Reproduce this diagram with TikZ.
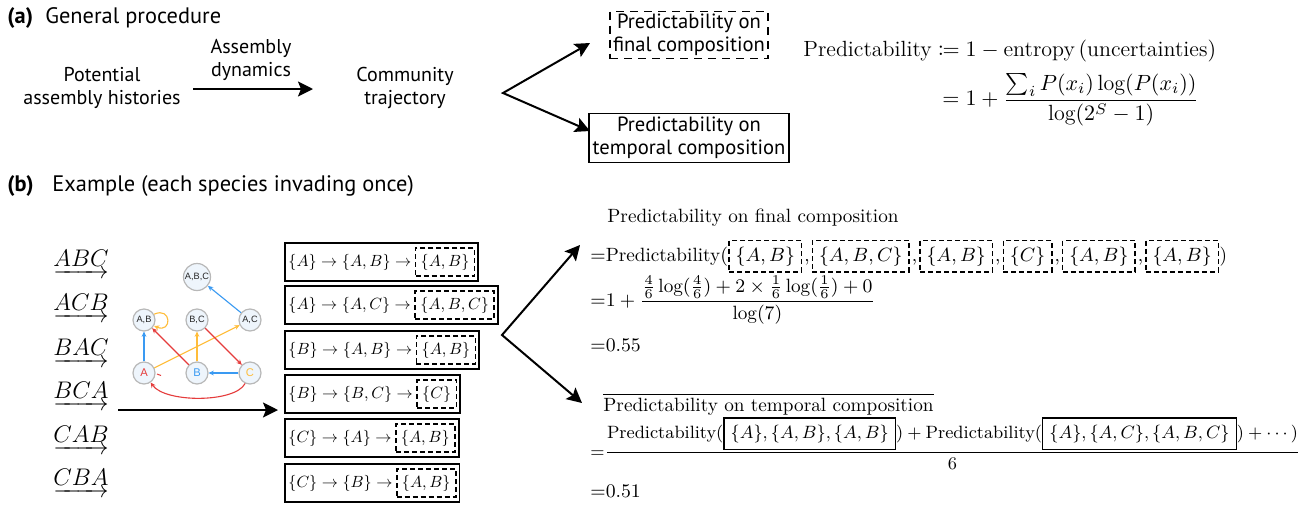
\RequirePackage{fix-cm}
\documentclass[tikz,border=0pt]{standalone}
\usepackage{graphicx}
\usepackage{amsmath}
\usepackage{mathtools}
\usepackage{fontspec}
\setsansfont{PT Sans}
\newfontfamily\gfont{Liberation Sans}
\usetikzlibrary{arrows.meta,fit}
\definecolor{gblue}{HTML}{3A9AF2}
\definecolor{gred}{HTML}{E53C3C}
\definecolor{gorange}{HTML}{FFBD3A}
\definecolor{gfill}{HTML}{EEF5FC}
\definecolor{gline}{HTML}{B8B8B8}
\setlength\fboxsep{3pt}
\setlength\fboxrule{0.7pt}
\newcommand\rowm[1]{\scalebox{0.81}{$#1$}}
\begin{document}
\begin{tikzpicture}[x=0.5pt,y=-0.5pt,
  bigtip/.tip={Stealth[length=7.5pt,width=7.5pt,inset=1.5pt]},
  sflab/.style={font=\sffamily\fontsize{10.3}{11.5}\selectfont, align=center, inner sep=0pt},
  flow/.style={font=\sffamily\fontsize{10}{11.5}\selectfont, align=center, inner sep=0pt},
  head/.style={font=\sffamily\fontsize{11.2}{13}\selectfont, anchor=west, inner sep=0pt},
  bigarrow/.style={line width=1pt, -bigtip},
  lbl/.style={font=\fontsize{12}{14}\selectfont, inner sep=0pt},
  rtxt/.style={font=\fontsize{10}{12}\selectfont, inner sep=0pt, anchor=base west},
  rdash/.style={draw, line width=0.8pt, dash pattern=on 2.5pt off 1.5pt, inner xsep=2.6pt, inner ysep=2.9pt, font=\fontsize{10}{12}\selectfont, anchor=base west},
  rbox/.style={draw, line width=0.9pt, inner xsep=1.5pt, inner ysep=2.2pt},
  rt/.style={font=\fontsize{9.6}{11}\selectfont, inner sep=0pt, anchor=base west},
  dbox/.style={draw, line width=0.8pt, dash pattern=on 2.5pt off 1.5pt, inner xsep=3.3pt, inner ysep=3pt, font=\fontsize{9.6}{11}\selectfont, anchor=base west},
  gn/.style={circle, draw=gline, fill=gfill, line width=0.6pt, minimum size=11pt, inner sep=0pt, font=\gfont\fontsize{4.6}{5}\selectfont, text=black!85},
  ge/.style={line width=0.55pt, -{Stealth[length=2.6pt,width=2.4pt]}}
]
\path[use as bounding box, fill=white] (0,0) rectangle (1309,504);

% ---------------- (a) ----------------
\node[head] (la) at (7,18) {\bfseries (a)};
\node[head] (ta) at (45,18) {General procedure};
\node[flow] (hist) at (102,88) {Potential\\assembly histories};
\node[flow] (dyn) at (251,60) {Assembly\\dynamics};
\node[flow] (traj) at (405,88) {Community\\trajectory};
\coordinate (a1) at (193,89);
\coordinate (a2) at (313,89);
\draw[bigarrow] (a1) -- (a2);

\coordinate (va) at (503,93);
\coordinate (ua) at (590,43);
\coordinate (da) at (590,131);
\draw[line width=1pt, bigtip-bigtip] (ua) -- (va) -- (da);

\node[draw, line width=0.6pt, dash pattern=on 4pt off 3pt, sflab, inner sep=1.5pt] (fin) at (689,35) {Predictability on\\final composition};
\node[draw, line width=0.6pt, sflab, inner sep=1.8pt] (tmp) at (689,138) {Predictability on\\temporal composition};

\node[anchor=base west, inner sep=0pt, font=\fontsize{11}{13}\selectfont] (d1) at (803,56)
  {$\text{Predictability} \coloneqq 1-\text{entropy}\,(\text{uncertainties})$};
\node[anchor=base west, inner sep=0pt, font=\fontsize{11}{13}\selectfont] (d2) at (942,105.5)
  {$=1+\dfrac{\sum_i P(x_i)\log(P(x_i))}{\log(2^S-1)}$};

% ---------------- (b) ----------------
\node[head] (lb) at (7,186) {\bfseries (b)};
\node[head] (tb) at (52,186) {Example (each species invading once)};

\node[lbl] (h1) at (81,264.5) {$\underrightarrow{ABC}$};
\node[lbl] (h2) at (81,308.5) {$\underrightarrow{ACB}$};
\node[lbl] (h3) at (81,353) {$\underrightarrow{BAC}$};
\node[lbl] (h4) at (81,396.5) {$\underrightarrow{BCA}$};
\node[lbl] (h5) at (81,440) {$\underrightarrow{CAB}$};
\node[lbl] (h6) at (81,483.5) {$\underrightarrow{CBA}$};

% graph
\node[gn, minimum size=13.5pt] (ABC) at (197,277) {A,B,C};
\node[gn] (AB) at (144,320) {A,B};
\node[gn] (BC) at (197,320) {B,C};
\node[gn] (AC) at (250,320) {A,C};
\node[gn, font=\gfont\fontsize{5.6}{6}\selectfont, text=gred] (A) at (144,373) {A};
\node[gn, font=\gfont\fontsize{5.6}{6}\selectfont, text=gblue] (B) at (197,373) {B};
\node[gn, font=\gfont\fontsize{5.6}{6}\selectfont, text=gorange] (C) at (250,373) {C};
\draw[ge, gblue] (A) -- (AB);
\draw[ge, gorange] (A) -- (AC);
\draw[ge, gred] (B) -- (AB);
\draw[ge, gorange] (B) -- (BC);
\draw[ge, gred] (BC) -- (C);
\draw[ge, gblue, line width=1pt] (C) -- (B);
\draw[ge, gblue] (AC) -- (ABC);
\draw[ge, gorange] (AB.30) .. controls +(18,-8) and +(18,8) .. (AB.-30);
\draw[ge, gred] (C.-115) .. controls (235,403) and (165,403) .. (A.-55);
\draw[gred, line width=0.5pt] (157,374) -- (161,375.5);

\coordinate (b1) at (118,410);
\coordinate (b2) at (278,410);
\draw[bigarrow] (b1) -- (b2);

% rows
\node[rtxt] (r1a) at (288,266) {\rowm{\{A\}\to\{A,B\}\to}};
\node[rdash] (r1b) at ([xshift=1.5pt]r1a.base east) {\rowm{\{A,B\}}};
\node[rbox, fit=(r1a)(r1b)] (r1) {};
\node[rtxt] (r2a) at (288,309) {\rowm{\{A\}\to\{A,C\}\to}};
\node[rdash] (r2b) at ([xshift=1.5pt]r2a.base east) {\rowm{\{A,B,C\}}};
\node[rbox, fit=(r2a)(r2b)] (r2) {};
\node[rtxt] (r3a) at (288,354) {\rowm{\{B\}\to\{A,B\}\to}};
\node[rdash] (r3b) at ([xshift=1.5pt]r3a.base east) {\rowm{\{A,B\}}};
\node[rbox, fit=(r3a)(r3b)] (r3) {};
\node[rtxt] (r4a) at (288,398) {\rowm{\{B\}\to\{B,C\}\to}};
\node[rdash] (r4b) at ([xshift=1.5pt]r4a.base east) {\rowm{\{C\}}};
\node[rbox, fit=(r4a)(r4b)] (r4) {};
\node[rtxt] (r5a) at (288,442) {\rowm{\{C\}\to\{A\}\to}};
\node[rdash] (r5b) at ([xshift=1.5pt]r5a.base east) {\rowm{\{A,B\}}};
\node[rbox, fit=(r5a)(r5b)] (r5) {};
\node[rtxt] (r6a) at (288,487) {\rowm{\{C\}\to\{B\}\to}};
\node[rdash] (r6b) at ([xshift=1.5pt]r6a.base east) {\rowm{\{A,B\}}};
\node[rbox, fit=(r6a)(r6b)] (r6) {};

\coordinate (vb) at (502,335);
\coordinate (ub) at (580,245);
\coordinate (db) at (582,403);
\draw[line width=1pt, bigtip-bigtip] (ub) -- (vb) -- (db);

% right: final composition
\node[rt] (t1) at (607,222) {Predictability on final composition};
\node[rt] (f0) at (590,261) {${=}\text{Predictability}($};
\node[dbox] (f1) at (f0.base east) {$\{A,B\}$};
\node[rt, inner xsep=0.8pt] (c1) at (f1.base east) {,};
\node[dbox] (f2) at (c1.base east) {$\{A,B,C\}$};
\node[rt, inner xsep=0.8pt] (c2) at (f2.base east) {,};
\node[dbox] (f3) at (c2.base east) {$\{A,B\}$};
\node[rt, inner xsep=0.8pt] (c3) at (f3.base east) {,};
\node[dbox] (f4) at (c3.base east) {$\{C\}$};
\node[rt, inner xsep=0.8pt] (c4) at (f4.base east) {,};
\node[dbox] (f5) at (c4.base east) {$\{A,B\}$};
\node[rt, inner xsep=0.8pt] (c5) at (f5.base east) {,};
\node[dbox] (f6) at (c5.base east) {$\{A,B\}$};
\node[rt] (f7) at (f6.base east) {)};
\node[rt] (e1) at (590,306.5) {${=}1+\dfrac{\frac{4}{6}\log(\frac{4}{6})+2\times\frac{1}{6}\log(\frac{1}{6})+0}{\log(7)}$};
\node[rt] (e2) at (590,351) {${=}0.55$};

% right: temporal composition
\node[rt] (t2) at (603,411) {$\overline{\text{Predictability on temporal composition}}$};
\node[rt, font=\fontsize{9}{11}\selectfont] (e3) at (590,457) {\scalebox{0.99}{${=}\dfrac{\text{Predictability}(\fbox{$\{A\},\{A,B\},\{A,B\}$})+\text{Predictability}(\fbox{$\{A\},\{A,C\},\{A,B,C\}$})+\cdots)}{6}$}};
\node[rt] (e4) at (590,497) {${=}0.51$};
\end{tikzpicture}
\end{document}
